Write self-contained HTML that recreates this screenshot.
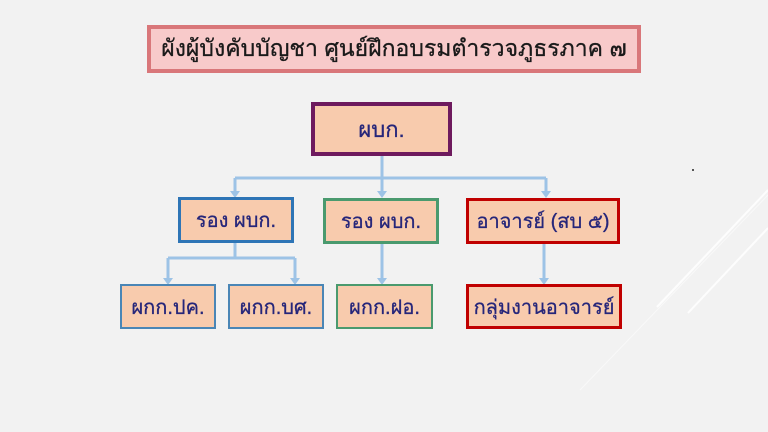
<!DOCTYPE html>
<html><head><meta charset="utf-8"><style>
body{margin:0;width:768px;height:432px;background:#f2f2f2;position:relative;overflow:hidden;font-family:"Liberation Sans","Noto Sans CJK SC",sans-serif}
.b{position:absolute;box-sizing:border-box;background:#f8cbad;color:#26267a;display:flex;align-items:center;justify-content:center;font-size:20px;white-space:nowrap;-webkit-text-stroke:0.3px #26267a}
</style></head><body>
<svg width="768" height="432" style="position:absolute;left:0;top:0">
<g stroke="#ffffff" stroke-width="2" opacity="0.9">
<line x1="657" y1="307" x2="768" y2="190"/>
<line x1="688" y1="313" x2="768" y2="228"/>
<line x1="580" y1="390" x2="768" y2="195" stroke-width="1" opacity="0.6"/>
</g>
<g stroke="#9dc3e6" stroke-width="3" fill="none">
<line x1="382" y1="155" x2="382" y2="192"/>
<line x1="235" y1="178" x2="546" y2="178"/>
<line x1="235" y1="178" x2="235" y2="192"/>
<line x1="546" y1="178" x2="546" y2="192"/>
<line x1="235" y1="242" x2="235" y2="258"/>
<line x1="168" y1="258" x2="295" y2="258"/>
<line x1="168" y1="258" x2="168" y2="279"/>
<line x1="295" y1="258" x2="295" y2="279"/>
<line x1="382" y1="243" x2="382" y2="279"/>
<line x1="544" y1="243" x2="544" y2="279"/>
</g>
<g fill="#9dc3e6">
<polygon points="230,191 240,191 235,198"/><polygon points="377,191 387,191 382,198"/><polygon points="541,191 551,191 546,198"/>
<polygon points="163,278 173,278 168,285"/><polygon points="290,278 300,278 295,285"/><polygon points="377,278 387,278 382,285"/><polygon points="539,278 549,278 544,285"/>
</g>
</svg>
<div class="b" style="left:147px;top:25px;width:494px;height:48px;background:#f8caca;border:4px solid #d9777a;color:#1a1a1a;-webkit-text-stroke:0.3px #1a1a1a;font-size:23px">ผังผู้บังคับบัญชา ศูนย์ฝึกอบรมตำรวจภูธรภาค ๗</div>
<div class="b" style="left:311px;top:102px;width:141px;height:54px;border:4px solid #6e1a5e;font-size:22px">ผบก.</div>
<div class="b" style="left:178px;top:197px;width:116px;height:46px;border:3px solid #2e75b6">รอง ผบก.</div>
<div class="b" style="left:323px;top:198px;width:116px;height:46px;border:3px solid #4a9a6e">รอง ผบก.</div>
<div class="b" style="left:466px;top:198px;width:154px;height:46px;border:3px solid #c00000">อาจารย์ (สบ ๕)</div>
<div class="b" style="left:120px;top:284px;width:96px;height:45px;border:2px solid #4a86b6">ผกก.ปค.</div>
<div class="b" style="left:228px;top:284px;width:96px;height:45px;border:2px solid #4a86b6">ผกก.บศ.</div>
<div class="b" style="left:336px;top:284px;width:97px;height:45px;border:2px solid #4a9a6e">ผกก.ฝอ.</div>
<div class="b" style="left:466px;top:284px;width:156px;height:45px;border:3px solid #c00000">กลุ่มงานอาจารย์</div>
<div style="position:absolute;left:692px;top:169px;width:2px;height:2px;background:#555"></div>
</body></html>
